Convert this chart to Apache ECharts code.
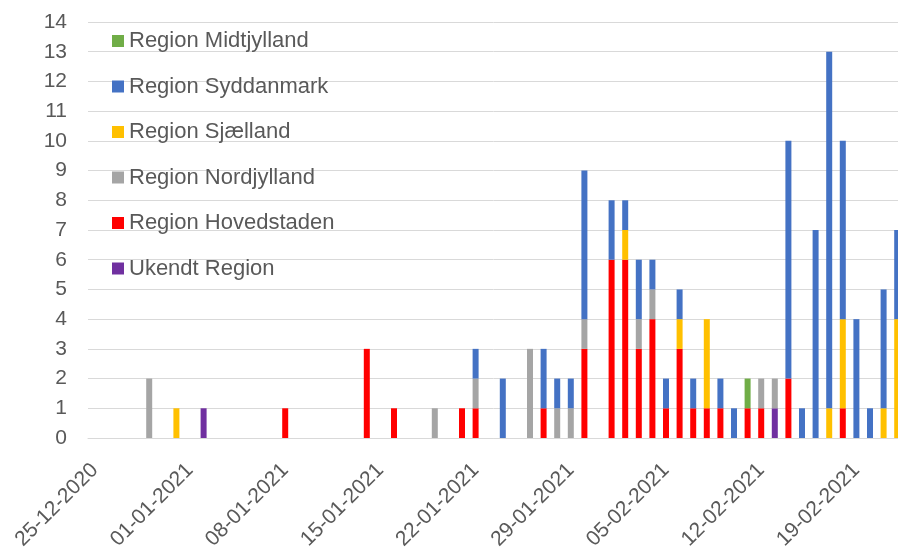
<!DOCTYPE html>
<html>
<head>
<meta charset="utf-8">
<script src="https://cdn.jsdelivr.net/npm/echarts@6/dist/echarts.min.js"></script>
<style>
  html, body { margin: 0; padding: 0; background: #fff; }
  #chart { width: 898px; height: 548px; }
</style>
</head>
<body>
<div id="chart"></div>
<script>
// Days shown on the axis (one category per day)
const startDay = Date.UTC(2020, 11, 25);
const dayCount = 60;

// Cases per region, keyed by date (days without cases are left out)
const ukendt = { "02-01-2021": 1, "13-02-2021": 1 };
const hovedstaden = {
  "08-01-2021": 1, "14-01-2021": 3, "16-01-2021": 1, "21-01-2021": 1, "22-01-2021": 1,
  "27-01-2021": 1, "30-01-2021": 3, "01-02-2021": 6, "02-02-2021": 6, "03-02-2021": 3,
  "04-02-2021": 4, "05-02-2021": 1, "06-02-2021": 3, "07-02-2021": 1, "08-02-2021": 1,
  "09-02-2021": 1, "11-02-2021": 1, "12-02-2021": 1, "14-02-2021": 2, "18-02-2021": 1,
};
const nordjylland = {
  "29-12-2020": 2, "19-01-2021": 1, "22-01-2021": 1, "26-01-2021": 3, "28-01-2021": 1,
  "29-01-2021": 1, "30-01-2021": 1, "03-02-2021": 1, "04-02-2021": 1, "12-02-2021": 1,
  "13-02-2021": 1,
};
const sjaelland = {
  "31-12-2020": 1, "02-02-2021": 1, "06-02-2021": 1, "08-02-2021": 3, "17-02-2021": 1,
  "18-02-2021": 3, "21-02-2021": 1, "22-02-2021": 4,
};
const syddanmark = {
  "22-01-2021": 1, "24-01-2021": 2, "27-01-2021": 2, "28-01-2021": 1, "29-01-2021": 1,
  "30-01-2021": 5, "01-02-2021": 2, "02-02-2021": 1, "03-02-2021": 2, "04-02-2021": 1,
  "05-02-2021": 1, "06-02-2021": 1, "07-02-2021": 1, "09-02-2021": 1, "10-02-2021": 1,
  "14-02-2021": 8, "15-02-2021": 1, "16-02-2021": 7, "17-02-2021": 12, "18-02-2021": 6,
  "19-02-2021": 4, "20-02-2021": 1, "21-02-2021": 4, "22-02-2021": 3,
};
const midtjylland = { "11-02-2021": 1 };

// Stack order, bottom to top
const regions = [
  { name: "Ukendt Region", color: "#7030A0", values: ukendt },
  { name: "Region Hovedstaden", color: "#FF0000", values: hovedstaden },
  { name: "Region Nordjylland", color: "#A5A5A5", values: nordjylland },
  { name: "Region Sjælland", color: "#FFC000", values: sjaelland },
  { name: "Region Syddanmark", color: "#4472C4", values: syddanmark },
  { name: "Region Midtjylland", color: "#70AD47", values: midtjylland },
];
const legendOrder = [
  "Region Midtjylland", "Region Syddanmark", "Region Sjælland",
  "Region Nordjylland", "Region Hovedstaden", "Ukendt Region",
];

const pad = (n) => String(n).padStart(2, "0");
const categories = [];
for (let i = 0; i < dayCount; i++) {
  const d = new Date(startDay + i * 86400000);
  categories.push(`${pad(d.getUTCDate())}-${pad(d.getUTCMonth() + 1)}-${d.getUTCFullYear()}`);
}

const font = "'Liberation Sans', Arial, sans-serif";
const textColor = "#595959";
const lineColor = "#D9D9D9";

const chart = echarts.init(document.getElementById("chart"));
chart.setOption({
  animation: false,
  // plot runs a little past the right edge of the picture, like the original
  grid: { left: 88, right: -6, top: 22, bottom: 110, outerBoundsMode: "none" },
  legend: {
    data: legendOrder,
    orient: "vertical",
    left: 112,
    top: 30,
    padding: 0,
    icon: "rect",
    itemWidth: 12,
    itemHeight: 12,
    itemGap: 23.5,
    textStyle: { fontFamily: font, fontSize: 22, lineHeight: 20, color: textColor },
  },
  xAxis: {
    type: "category",
    data: categories,
    axisLine: { lineStyle: { color: lineColor, width: 1 } },
    axisTick: { interval: 6, length: 6, lineStyle: { color: lineColor } },
    axisLabel: {
      interval: 6,
      rotate: 45,
      margin: 29,
      fontFamily: font,
      fontSize: 21,
      color: textColor,
    },
  },
  yAxis: {
    type: "value",
    min: 0,
    max: 14,
    interval: 1,
    axisLine: { show: false },
    axisTick: { show: false },
    axisLabel: { margin: 21, fontFamily: font, fontSize: 21, color: textColor },
    splitLine: { lineStyle: { color: lineColor, width: 1 } },
  },
  series: regions.map((r) => ({
    name: r.name,
    type: "bar",
    stack: "total",
    barWidth: 6,
    itemStyle: { color: r.color },
    emphasis: { disabled: true },
    data: categories.map((c) => r.values[c] || 0),
  })),
});
</script>
</body>
</html>
